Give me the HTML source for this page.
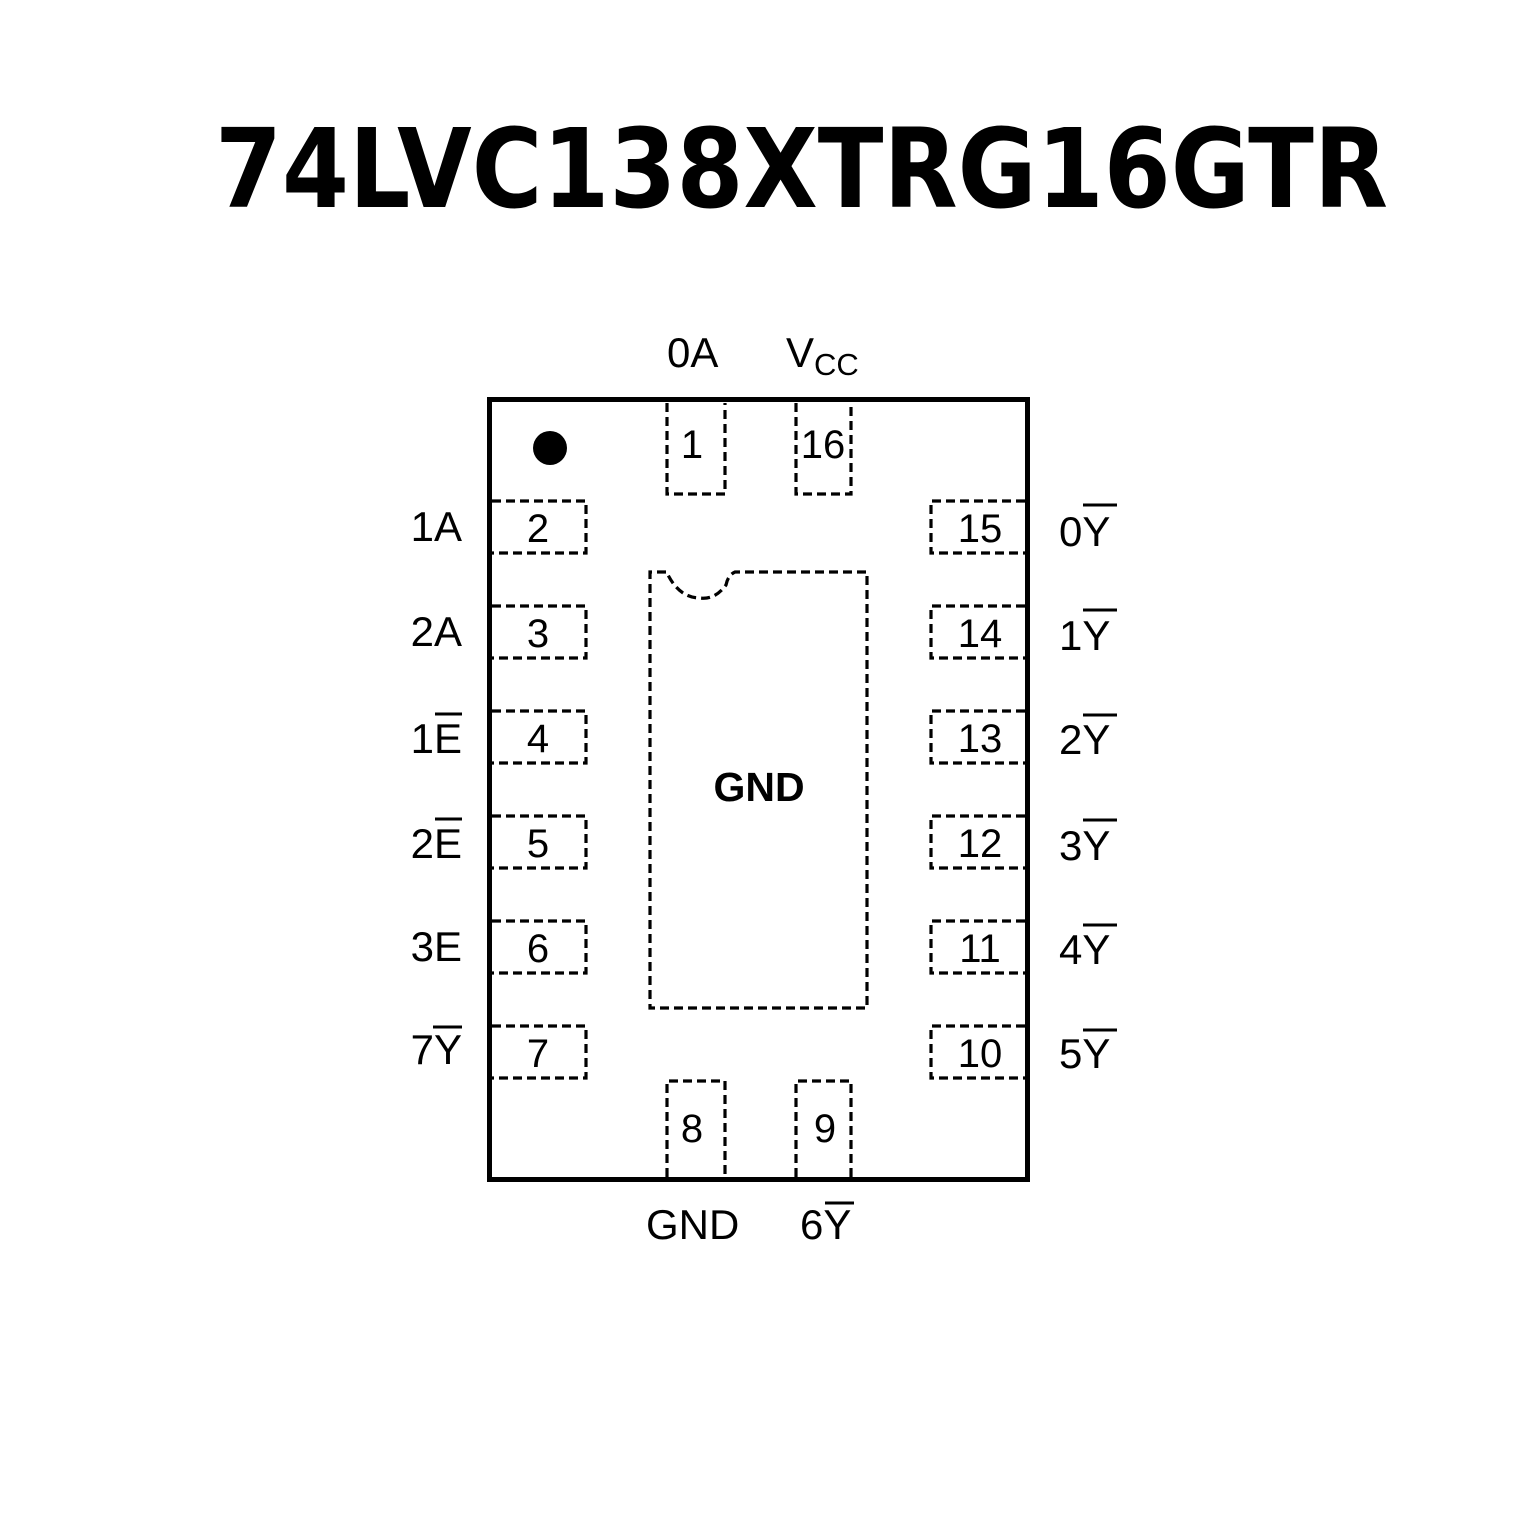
<!DOCTYPE html>
<html><head><meta charset="utf-8"><style>html,body{margin:0;padding:0;background:#fff}svg{display:block}</style></head>
<body>
<svg width="1535" height="1535" viewBox="0 0 1535 1535" xmlns="http://www.w3.org/2000/svg" font-family="Liberation Sans, Arial, sans-serif">
<text x="215" y="207" font-family="DejaVu Sans, Liberation Sans, sans-serif" font-weight="bold" font-size="110" textLength="1173" lengthAdjust="spacingAndGlyphs">74LVC138XTRG16GTR</text>
<rect x="489.5" y="399.5" width="538" height="780" fill="none" stroke="#000" stroke-width="5"/>
<circle cx="550" cy="448" r="17" fill="#000"/>
<g fill="none" stroke="#000" stroke-width="3.2" stroke-dasharray="9,5">
<path d="M667 403 V494 H725 V403"/>
<path d="M796 403 V494 H851 V403"/>
<path d="M667 1177 V1081 H725 V1177"/>
<path d="M796 1177 V1081 H851 V1177"/>
<path d="M492 501 H586 V553 H492"/>
<path d="M492 606 H586 V658 H492"/>
<path d="M492 711 H586 V763 H492"/>
<path d="M492 816 H586 V868 H492"/>
<path d="M492 921 H586 V973 H492"/>
<path d="M492 1026 H586 V1078 H492"/>
<path d="M1025 501 H931 V553 H1025"/>
<path d="M1025 606 H931 V658 H1025"/>
<path d="M1025 711 H931 V763 H1025"/>
<path d="M1025 816 H931 V868 H1025"/>
<path d="M1025 921 H931 V973 H1025"/>
<path d="M1025 1026 H931 V1078 H1025"/>
<path d="M666 572 H650 V1008 H867 V572 H735 Q728 575 726 585 Q715 600 700 598 Q680 598 668 575"/>
</g>
<g font-size="40" text-anchor="middle" fill="#000">
<text x="692" y="458">1</text><text x="823" y="458">16</text>
<text x="692" y="1142">8</text><text x="825" y="1142">9</text>
<text x="538" y="542">2</text><text x="538" y="647">3</text><text x="538" y="752">4</text>
<text x="538" y="857">5</text><text x="538" y="962">6</text><text x="538" y="1067">7</text>
<text x="980" y="542">15</text><text x="980" y="647">14</text><text x="980" y="752">13</text>
<text x="980" y="857">12</text><text x="980" y="962">11</text><text x="980" y="1067">10</text>
</g>
<g font-size="42" fill="#000">
<g text-anchor="end">
<text x="462" y="541">1A</text><text x="462" y="646">2A</text><text x="462" y="753">1E</text>
<text x="462" y="858">2E</text><text x="462" y="961">3E</text><text x="462" y="1064">7Y</text>
</g>
<text x="1059" y="546">0Y</text><text x="1059" y="650">1Y</text><text x="1059" y="754">2Y</text>
<text x="1059" y="860">3Y</text><text x="1059" y="964">4Y</text><text x="1059" y="1068">5Y</text>
<text x="667" y="367">0A</text>
<text x="786" y="367">V<tspan font-size="31" dy="8">CC</tspan></text>
<text x="646" y="1239">GND</text>
<text x="800" y="1239">6Y</text>
</g>
<text x="759" y="801" font-size="41" font-weight="bold" text-anchor="middle">GND</text>
<g stroke="#000" stroke-width="3">
<line x1="435" y1="714" x2="462" y2="714"/>
<line x1="435" y1="819" x2="462" y2="819"/>
<line x1="433" y1="1027" x2="462" y2="1027"/>
<line x1="1083" y1="505" x2="1117" y2="505"/>
<line x1="1083" y1="610" x2="1117" y2="610"/>
<line x1="1083" y1="715" x2="1117" y2="715"/>
<line x1="1083" y1="820" x2="1117" y2="820"/>
<line x1="1083" y1="925" x2="1117" y2="925"/>
<line x1="1083" y1="1030" x2="1117" y2="1030"/>
<line x1="825" y1="1203" x2="854" y2="1203"/>
</g>
</svg>
</body></html>
